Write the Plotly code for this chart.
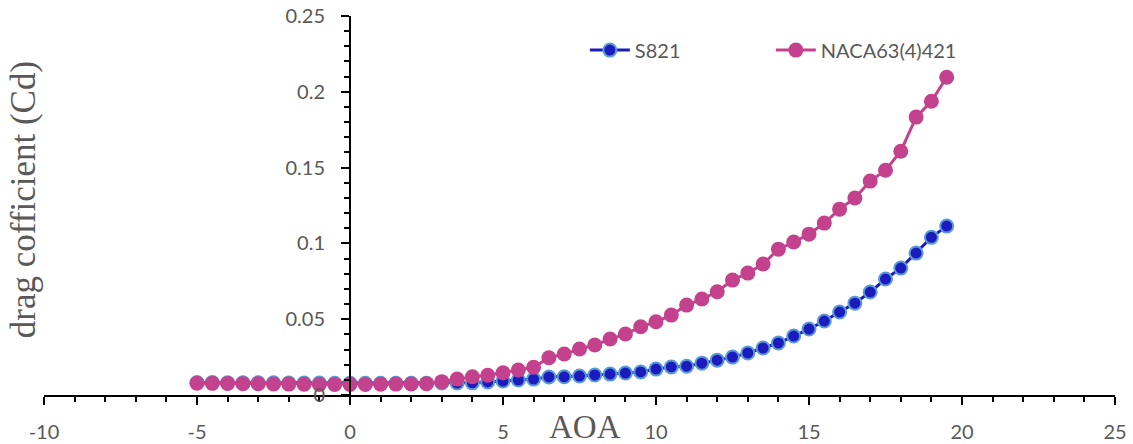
import plotly.graph_objects as go

aoa = [-5, -4.5, -4, -3.5, -3, -2.5, -2, -1.5, -1, -0.5, 0, 0.5, 1, 1.5, 2, 2.5,
       3, 3.5, 4, 4.5, 5, 5.5, 6, 6.5, 7, 7.5, 8, 8.5, 9, 9.5, 10, 10.5, 11, 11.5,
       12, 12.5, 13, 13.5, 14, 14.5, 15, 15.5, 16, 16.5, 17, 17.5, 18, 18.5, 19, 19.5]

cd_s821 = [0.0082, 0.0082, 0.0081, 0.0081, 0.0080, 0.0080, 0.0079, 0.0079, 0.0079, 0.0078,
           0.0078, 0.0078, 0.0078, 0.0078, 0.0078, 0.0078,
           0.0079, 0.0079, 0.0080, 0.0086, 0.0092, 0.0099, 0.0105, 0.0119, 0.0120, 0.0125,
           0.0132, 0.0138, 0.0145, 0.0152, 0.0171, 0.0185, 0.0190, 0.0210, 0.0230, 0.0250,
           0.0277, 0.0310, 0.0343, 0.0389, 0.0435, 0.0488, 0.0547, 0.0606, 0.0679, 0.0765,
           0.0837, 0.0936, 0.1040, 0.1114]

cd_naca = [0.0078, 0.0077, 0.0076, 0.0075, 0.0074, 0.0073, 0.0072, 0.0071, 0.0070, 0.0070,
           0.0070, 0.0070, 0.0071, 0.0072, 0.0073, 0.0075,
           0.0088, 0.0105, 0.0120, 0.0130, 0.0147, 0.0165, 0.0183, 0.0246, 0.0270, 0.0303,
           0.0330, 0.0369, 0.0402, 0.0450, 0.0483, 0.0527, 0.0593, 0.0633, 0.0681, 0.0758,
           0.0804, 0.0864, 0.0962, 0.1009, 0.1061, 0.1134, 0.1226, 0.1299, 0.1411, 0.1483,
           0.1608, 0.1833, 0.1938, 0.2096]

series_names = ["S821", "NACA63(4)421"]
x_ticks = [-10, -5, 0, 5, 10, 15, 20, 25]
x_tick_text = ["-10", "-5", "0", "5", "10", "15", "20", "25"]
y_ticks = [0, 0.05, 0.1, 0.15, 0.2, 0.25]
y_tick_text = ["0", "0.05", "0.1", "0.15", "0.2", "0.25"]

GRAY = "#595959"
TICKFONT = dict(family="Lato", size=20, color=GRAY)

fig = go.Figure()
fig.add_trace(go.Scatter(
    x=aoa, y=cd_s821, name=series_names[0], mode="lines+markers",
    line=dict(color="#1C1CBE", width=3),
    marker=dict(size=13, color="#1C1CBE", line=dict(color="#5B9BD5", width=2)),
))
fig.add_trace(go.Scatter(
    x=aoa, y=cd_naca, name=series_names[1], mode="lines+markers",
    line=dict(color="#C4428D", width=3),
    marker=dict(size=15, color="#C4428D"),
))

fig.update_layout(
    width=1133, height=444, autosize=False,
    margin=dict(l=44, r=18, t=16, b=49, autoexpand=False),
    plot_bgcolor="white", paper_bgcolor="white",
    showlegend=True,
    legend=dict(orientation="h", x=0.505, y=0.91, xanchor="left", yanchor="middle",
                font=dict(family="Lato", size=20, color=GRAY),
                bgcolor="rgba(0,0,0,0)", entrywidth=131, itemwidth=40),
    xaxis=dict(range=[-10, 25], tickvals=x_ticks, ticktext=x_tick_text,
               showgrid=False, zeroline=False, automargin=False,
               showline=True, linecolor="black", linewidth=2,
               ticks="outside", ticklen=8, tickwidth=2, tickcolor="black",
               tickfont=TICKFONT, ticklabelstandoff=10,
               minor=dict(dtick=1, ticks="outside", ticklen=5, tickwidth=1.5, tickcolor="black"),
               anchor="y"),
    yaxis=dict(range=[0, 0.25], tickvals=y_ticks, ticktext=y_tick_text, showgrid=False,
               zeroline=False, showline=True, linecolor="black", linewidth=2, automargin=False,
               ticks="outside", ticklen=8, tickwidth=2, tickcolor="black",
               tickfont=TICKFONT, ticklabelstandoff=12,
               minor=dict(dtick=0.01, ticks="outside", ticklen=5, tickwidth=1.5, tickcolor="black"),
               anchor="free", position=10 / 35),
    annotations=[
        dict(text="AOA", xref="paper", yref="paper", x=0.505, y=-0.0844,
             xanchor="center", yanchor="middle", showarrow=False,
             font=dict(family="Liberation Serif", size=33, color=GRAY)),
        dict(text="drag cofficient (Cd)", xref="paper", yref="paper", x=-0.0196, y=0.514,
             xanchor="center", yanchor="middle", showarrow=False, textangle=-90,
             font=dict(family="Liberation Serif", size=35, color=GRAY)),
    ],
)

fig.write_html("out.html", config={"displayModeBar": False},
               post_script="document.body.style.margin='0';")
